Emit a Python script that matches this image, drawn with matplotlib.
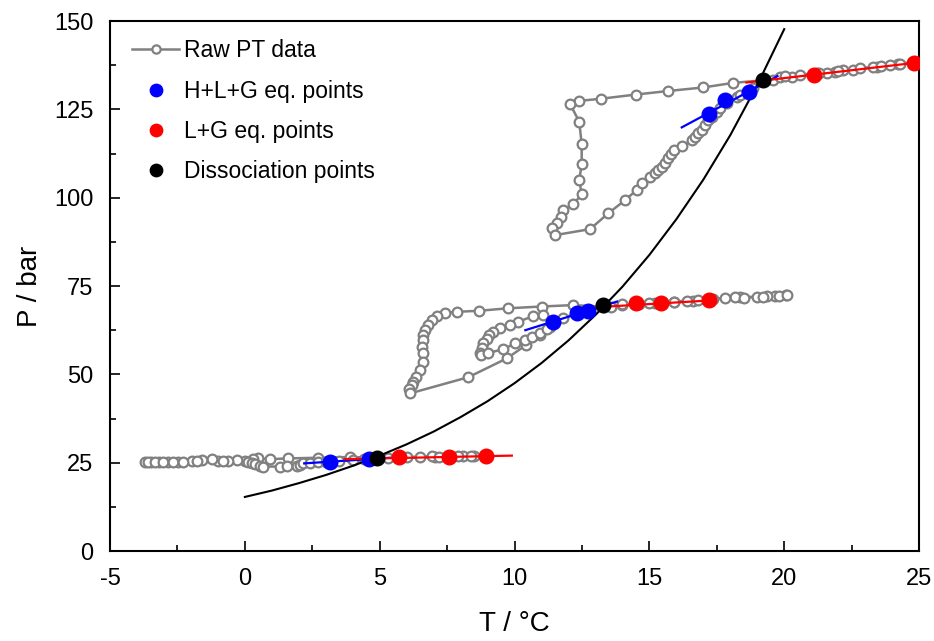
import numpy as np
import matplotlib.pyplot as plt
from matplotlib.ticker import MultipleLocator

plt.rcParams['font.family'] = ['Liberation Sans', 'DejaVu Sans']
plt.rcParams['axes.unicode_minus'] = False

# raw PT data, three runs (cooling then heating)
run1_T = [8.9, 8.5, 8.1, 7.6, 7.05, 6.93, 5.7, 4.8, 3.9, 2.7, 1.6, 0.93, 0.5, 0.3, 0.01, -0.3,
          -0.61, -0.98, -1.23, -1.6, -1.97, -2.47, -2.84, -3.17, -3.49, -3.70,
          -3.60, -3.33, -3.02, -2.68, -2.28, -1.79, -0.80, 0.13, 0.25, 0.38, 0.56, 0.68, 1.30,
          1.55, 1.92, 2.05, 2.17, 2.4, 2.7, 3.0, 3.5, 4.0, 4.4, 4.9, 5.3, 6.0, 6.5, 7.2, 7.9, 8.4, 8.9]
run1_P = [27.0, 26.9, 26.9, 26.8, 26.7, 26.8, 26.5, 26.4, 26.6, 26.4, 26.2, 26.0, 26.2, 25.9, 25.6, 25.8,
          25.5, 25.6, 26.0, 25.8, 25.4, 25.3, 25.2, 25.1, 25.1, 25.1,
          25.1, 25.1, 25.1, 25.2, 25.3, 25.5, 25.6, 25.3, 24.8, 24.5, 24.2, 23.9, 23.9,
          24.1, 24.1, 24.3, 24.8, 25.0, 25.1, 25.2, 25.5, 25.7, 25.9, 26.2, 26.3, 26.5, 26.6, 26.7, 26.8, 26.9, 27.0]

run2_T = [20.07, 19.66, 19.35, 18.98, 18.36, 18.18, 17.37, 16.6, 15.9, 15.2, 14.6, 14.0,
          13.56, 12.18, 11.0, 9.77, 8.70, 7.88, 7.42, 7.11, 6.93, 6.80, 6.68, 6.59, 6.59,
          6.55, 6.62, 6.62, 6.50, 6.35, 6.25, 6.19, 6.10, 6.12,
          8.29, 9.71, 10.43, 10.95, 11.3, 11.07, 10.70, 10.14, 9.83, 9.46, 9.21, 9.07, 8.97,
          8.84, 8.78, 8.72, 8.75, 9.03, 9.59, 10.02, 10.39, 10.64, 10.95, 11.19, 11.41, 11.8,
          12.3, 12.74, 13.3, 14.0, 14.5, 15.0, 15.4, 15.9, 16.4, 16.8, 17.2, 17.8, 18.5, 19.2, 19.8, 20.1]
run2_P = [72.5, 72.2, 72.2, 72.0, 71.8, 71.8, 71.3, 70.9, 70.6, 70.3, 70.0, 69.7,
          69.0, 69.6, 69.2, 68.7, 68.0, 67.7, 67.5, 66.5, 65.4, 64.0, 62.5, 61.1, 59.7,
          57.8, 55.9, 53.6, 51.2, 49.3, 47.9, 47.0, 45.8, 44.6,
          49.2, 54.5, 58.3, 61.1, 63.5, 66.8, 66.5, 64.9, 64.0, 63.0, 62.1, 61.1, 59.9,
          58.8, 57.4, 56.0, 55.6, 56.1, 57.1, 58.8, 59.7, 60.7, 61.6, 62.7, 64.9, 66.0,
          67.2, 68.0, 69.2, 69.8, 70.0, 70.3, 70.4, 70.6, 70.8, 71.0, 71.2, 71.5, 71.7, 72.0, 72.3, 72.5]

run3_T = [24.79, 24.22, 23.92, 23.44, 23.30, 22.55, 22.18, 21.89, 21.58, 21.2, 20.3, 19.2,
          18.11, 17.0, 15.70, 14.51, 13.20, 12.40, 12.06,
          12.40, 12.49, 12.49, 12.40, 12.49, 12.18, 11.79, 11.71, 11.56, 11.38, 11.50,
          12.80, 13.48, 14.10, 14.53, 14.71, 15.02, 15.21, 15.33, 15.46, 15.58, 15.70, 15.8,
          15.9, 16.2, 16.57, 16.69, 16.82, 16.94, 17.07, 17.19, 17.31, 17.50, 17.62, 17.87,
          18.24, 18.36, 18.61, 18.86, 19.60, 19.85, 20.03, 20.6, 21.3, 22.0, 22.8, 23.6, 24.3, 24.8]
run3_P = [138.3, 137.9, 137.5, 137.1, 136.9, 136.2, 136.0, 135.7, 135.4, 135.2, 134.2, 133.2,
          132.5, 131.2, 130.2, 129.2, 128.0, 127.4, 126.5,
          121.5, 115.1, 109.4, 105.0, 101.0, 98.1, 96.5, 94.6, 92.9, 91.3, 89.4,
          91.1, 95.6, 99.3, 102.2, 104.1, 105.9, 107.1, 107.8, 108.6, 109.7, 111.1, 112.3,
          113.5, 114.6, 116.3, 117.3, 118.2, 119.2, 120.6, 122.0, 122.9, 124.3, 125.3, 126.7,
          128.6, 129.1, 130.0, 131.0, 133.3, 134.1, 134.4, 134.8, 135.3, 135.9, 136.6, 137.2, 137.8, 138.2]

# equilibrium points
hlg_T = [3.16, 4.62, 11.41, 12.30, 12.74, 17.22, 17.82, 18.71]
hlg_P = [25.3, 26.0, 64.9, 67.3, 68.0, 123.6, 127.6, 130.0]
lg_T = [5.73, 7.57, 8.94, 14.51, 15.42, 17.22, 21.12, 24.81]
lg_P = [26.5, 26.7, 26.9, 70.1, 70.3, 71.0, 134.7, 138.0]
diss_T = [4.91, 13.29, 19.20]
diss_P = [26.2, 69.6, 133.3]

# fitted lines (start, end) per run
hlg_fit_T = [[2.2, 5.6], [10.4, 13.8], [16.2, 19.75]]
hlg_fit_P = [[24.8, 26.5], [62.5, 70.6], [119.9, 134.4]]
lg_fit_T = [[3.7, 9.9], [13.05, 17.43], [18.6, 25.0]]
lg_fit_P = [[26.0, 27.0], [69.0, 71.0], [132.6, 138.3]]

# dissociation curve
curve_T = list(range(0, 21))
curve_P = [15.3, 17.1, 19.2, 21.5, 24.1, 27.0, 30.2, 33.8, 37.9, 42.4, 47.5,
           53.2, 59.6, 66.8, 74.8, 83.8, 93.9, 105.1, 117.7, 131.9, 147.7]

fig = plt.figure(figsize=(9.34, 6.41), dpi=100)
ax = fig.add_axes([0.1178, 0.1404, 0.8662, 0.8268])

raw_style = dict(color='gray', lw=1.8, marker='o', ms=7, mfc='white', mec='gray', mew=1.6)
for i, (t, p) in enumerate([(run1_T, run1_P), (run2_T, run2_P), (run3_T, run3_P)]):
    ax.plot(t, p, label='Raw PT data' if i == 0 else None, zorder=2, **raw_style)

ax.plot(curve_T, curve_P, color='black', lw=1.5, zorder=3)

for t, p in zip(hlg_fit_T, hlg_fit_P):
    ax.plot(t, p, color='blue', lw=1.6, zorder=4)
for t, p in zip(lg_fit_T, lg_fit_P):
    ax.plot(t, p, color='red', lw=1.6, zorder=4)

ax.plot(hlg_T, hlg_P, 'o', color='blue', ms=10.5, label='H+L+G eq. points', zorder=5)
ax.plot(lg_T, lg_P, 'o', color='red', ms=10.5, label='L+G eq. points', zorder=5)
ax.plot(diss_T, diss_P, 'o', color='black', ms=10.5, label='Dissociation points', zorder=5)

ax.set_xlim(-5, 25)
ax.set_ylim(0, 150)
ax.xaxis.set_major_locator(MultipleLocator(5))
ax.xaxis.set_minor_locator(MultipleLocator(2.5))
ax.yaxis.set_major_locator(MultipleLocator(25))
ax.yaxis.set_minor_locator(MultipleLocator(12.5))
ax.tick_params(which='both', direction='in', labelsize=17, width=1.2)
ax.tick_params(which='major', length=7, pad=12)
ax.tick_params(which='minor', length=4)
for s in ax.spines.values():
    s.set_linewidth(1.5)

ax.set_xlabel('T / °C', fontsize=20, labelpad=15)
ax.set_ylabel('P / bar', fontsize=20, labelpad=8)

leg = ax.legend(loc='upper left', bbox_to_anchor=(0.005, 1.0), frameon=False, fontsize=16.5,
                handlelength=2.05, labelspacing=0.75, handletextpad=0.2, borderaxespad=0.4,
                markerscale=0.85)

fig.savefig('out.png', dpi=100)
